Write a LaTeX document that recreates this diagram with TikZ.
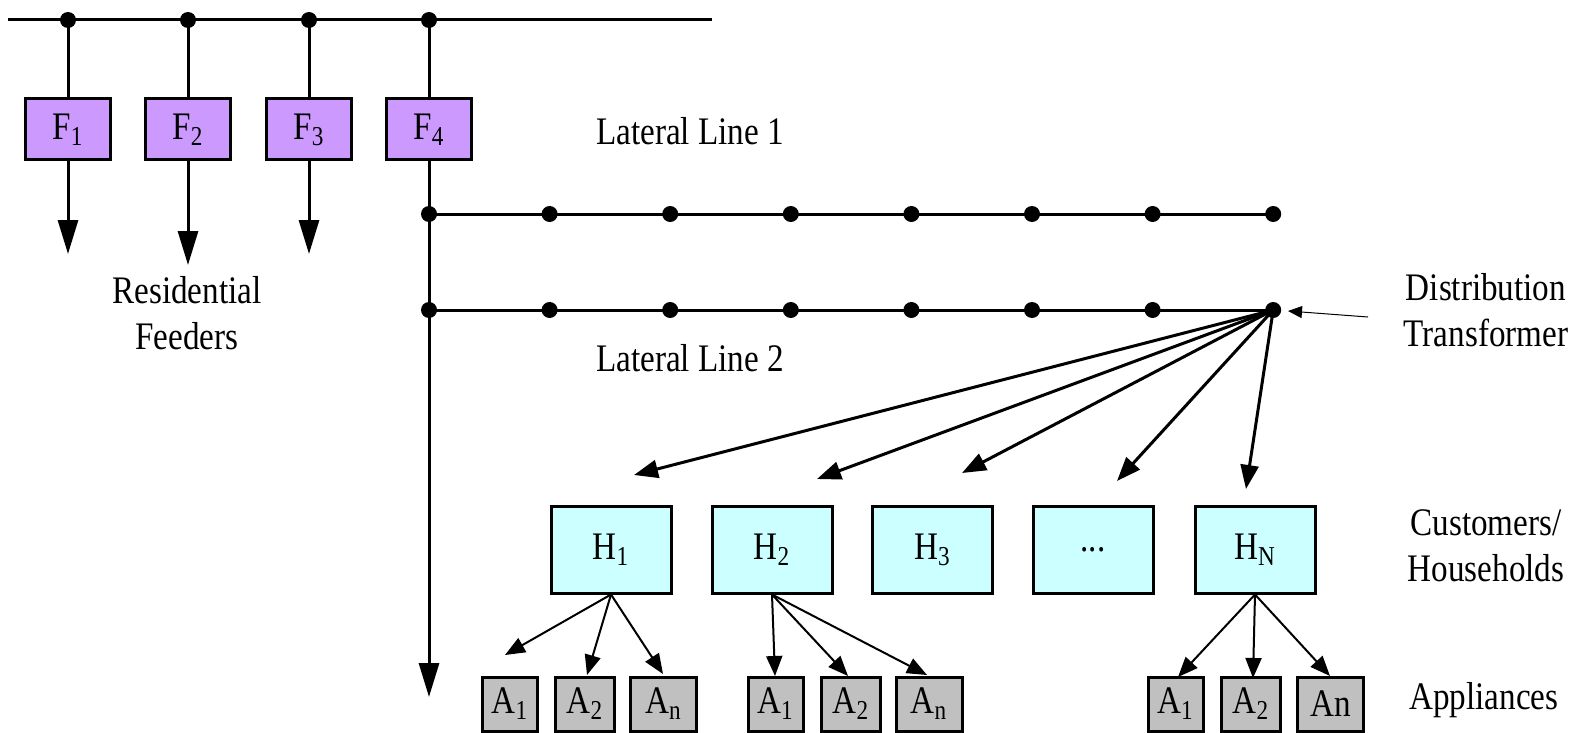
\documentclass[tikz,border=0pt]{standalone}
\usepackage{fontspec}
\setmainfont[FakeStretch=0.85]{Liberation Serif}
\usetikzlibrary{arrows.meta}
\definecolor{fpurple}{HTML}{CC99FF}
\definecolor{hcyan}{HTML}{CCFFFF}
\definecolor{agray}{HTML}{C0C0C0}
\begin{document}
\begin{tikzpicture}[x=0.5pt,y=-0.5pt,
  every node/.style={font=\fontsize{19.5}{23}\selectfont},
  line/.style={line width=1.5pt},
  dot/.style={circle,fill=black,inner sep=0pt,minimum size=8pt},
  fbox/.style={draw,line width=1.5pt,fill=fpurple,minimum width=42.5pt,minimum height=30.5pt,inner sep=0pt},
  hbox/.style={draw,line width=1.5pt,fill=hcyan,minimum width=60pt,minimum height=43.5pt,inner sep=0pt},
  abox/.style={draw,line width=1.5pt,fill=agray,minimum height=27pt,inner sep=0pt},
  bigarrow/.style={line width=1.5pt,-{Triangle[width=10pt,length=17pt]}},
  tarrow/.style={line width=1.5pt,-{Triangle[width=9pt,length=12pt]}},
  aarrow/.style={line width=1pt,-{Triangle[width=8pt,length=10pt]}},
  thinarrow/.style={line width=0.5pt,-{Triangle[width=6pt,length=7pt]}}]
\useasboundingbox (0,0) rectangle (1585,733);
% top bus
\coordinate (bl) at (8,20);
\coordinate (br) at (712,20);
\draw[line] (bl) -- (br);
\node[dot] (d1) at (68,20) {};
\node[dot] (d2) at (188,20) {};
\node[dot] (d3) at (309,20) {};
\node[dot] (d4) at (429,20) {};
% feeders
\node[fbox] (F1) at (68,129.5) {F\textsubscript{1}};
\node[fbox] (F2) at (188,129.5) {F\textsubscript{2}};
\node[fbox] (F3) at (309,129.5) {F\textsubscript{3}};
\node[fbox] (F4) at (429,129.5) {F\textsubscript{4}};
\foreach \i in {1,...,4} \draw[line] (d\i.center) -- (F\i.north);
\coordinate (e1) at (68,254);
\coordinate (e2) at (188,265);
\coordinate (e3) at (309,254);
\foreach \i in {1,2,3} \draw[bigarrow] (F\i.south) -- (e\i);
\node[align=center] (rf) at (187,313) {Residential\\Feeders};
% lateral lines
\foreach \k in {0,...,7} {
  \node[dot] (la\k) at ({429+120.6*\k},214) {};
  \node[dot] (lb\k) at ({429+120.6*\k},310) {};
}
\draw[line] (la0.center) -- (la7.center);
\draw[line] (lb0.center) -- (lb7.center);
\coordinate (bot) at (429,697);
\draw[line] (F4.south) -- (la0.center);
\draw[bigarrow] (la0.center) -- (bot);
\node (ll1) at (690,131) {Lateral Line 1};
\node (ll2) at (690,358) {Lateral Line 2};
% transformer label
\node[align=center] (dt) at (1486,310) {Distribution\\Transformer};
\coordinate (dts) at (1368,317);
\draw[thinarrow] (dts) -- (1288,311);
% households
\node[hbox] (H1) at (611,549.5) {H\textsubscript{1}};
\node[hbox] (H2) at (772,549.5) {H\textsubscript{2}};
\node[hbox] (H3) at (932.5,549.5) {H\textsubscript{3}};
\node[hbox] (Hd) at (1093,549.5) {...};
\node[hbox] (HN) at (1255,549.5) {H\textsubscript{N}};
\coordinate (t1) at (634,475);
\coordinate (t2) at (817,479);
\coordinate (t3) at (962,473);
\coordinate (t4) at (1117,481);
\coordinate (t5) at (1246,489);
\foreach \i in {1,...,5} \draw[tarrow] (lb7.center) -- (t\i);
\node[align=center] (ch) at (1486,546) {Customers/\\Households};
% appliances
\node[abox,minimum width=27.5pt] (A11) at (510,704) {A\textsubscript{1}};
\node[abox,minimum width=29.5pt] (A12) at (585,704) {A\textsubscript{2}};
\node[abox,minimum width=33pt] (A13) at (663.5,704) {A\textsubscript{n}};
\node[abox,minimum width=27.5pt] (A21) at (775.5,704) {A\textsubscript{1}};
\node[abox,minimum width=29.5pt] (A22) at (851,704) {A\textsubscript{2}};
\node[abox,minimum width=33pt] (A23) at (929,704) {A\textsubscript{n}};
\node[abox,minimum width=27.5pt] (A31) at (1175.5,704) {A\textsubscript{1}};
\node[abox,minimum width=29.5pt] (A32) at (1251,704) {A\textsubscript{2}};
\node[abox,minimum width=33pt] (A33) at (1330.5,704) {An};
\node (ap) at (1484,700) {Appliances};
\coordinate (p11) at (505,655);
\coordinate (p12) at (587,675);
\coordinate (p13) at (663,674);
\coordinate (p21) at (775,676);
\coordinate (p22) at (848,676);
\coordinate (p23) at (927,675);
\coordinate (p31) at (1178,677);
\coordinate (p32) at (1253,678);
\coordinate (p33) at (1330,676);
\foreach \j in {1,2,3} {
  \draw[aarrow] (H1.south) -- (p1\j);
  \draw[aarrow] (H2.south) -- (p2\j);
  \draw[aarrow] (HN.south) -- (p3\j);
}
\end{tikzpicture}
\end{document}
